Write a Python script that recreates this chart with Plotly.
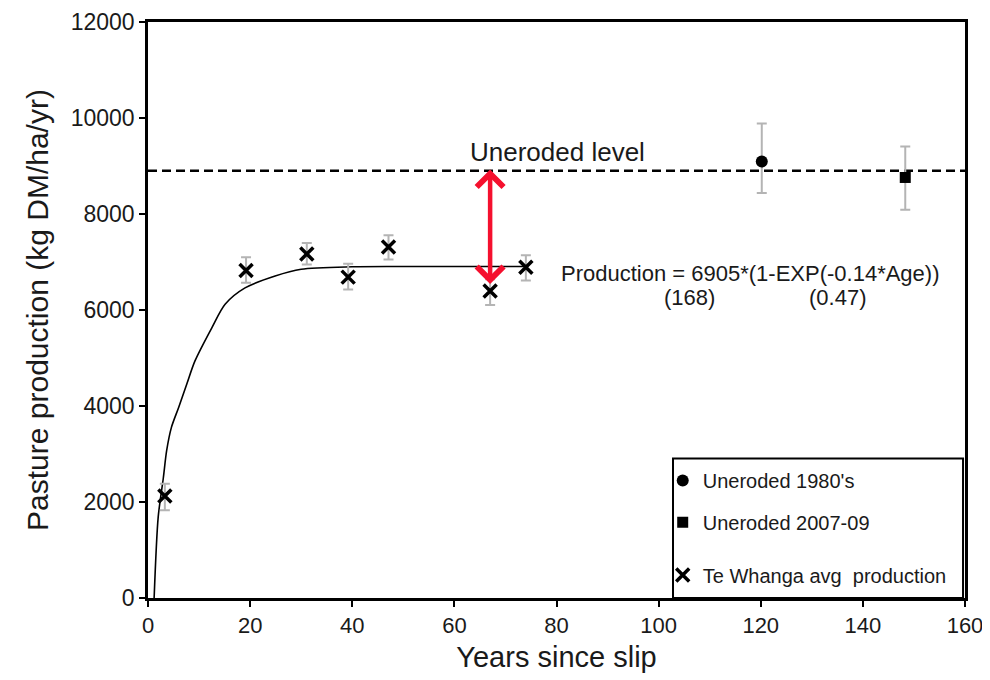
import plotly.graph_objects as go

# ---- data ----
te_x = [3.3, 19.2, 31.1, 39.2, 47.1, 67.0, 74.0]
te_y = [2124, 6824, 7168, 6685, 7314, 6394, 6892]
te_top = [2381, 7100, 7397, 6961, 7557, 6643, 7141]
te_bot = [1827, 6566, 6948, 6429, 7052, 6103, 6616]

u80_x = [120.2]
u80_y = [9093]
u80_top = [9888]
u80_bot = [8435]

u07_x = [148.3]
u07_y = [8761]
u07_top = [9404]
u07_bot = [8090]

curve_x = [1.2, 2.0, 3.0, 3.65, 4.6, 6.0, 7.6, 9.2, 12.5, 15.1, 19.0, 24.9, 30.0, 40.0, 50.0, 60.0, 74.0]
curve_y = [0, 1690, 2500, 3070, 3560, 3970, 4460, 4940, 5630, 6120, 6460, 6710, 6850, 6900, 6905, 6905, 6905]

uneroded_level = 8900
level_x = [0, 160]

arrow_x = 67
arrow_top = 8960
arrow_bottom = 6540

x_ticks = [0, 20, 40, 60, 80, 100, 120, 140, 160]
y_ticks = [0, 2000, 4000, 6000, 8000, 10000, 12000]
y_tick_text = ["0", "2000", "4000", "6000", "8000", "10000", "12000"]

FONT = "Liberation Sans, Arial, sans-serif"
TXT = "#1a1a1a"
ERR = "#b4b4b4"


def err_up(v, t):
    return [a - b for a, b in zip(t, v)]


def err_dn(v, b):
    return [a - c for a, c in zip(v, b)]


fig = go.Figure()

# fitted curve
fig.add_trace(go.Scatter(x=curve_x, y=curve_y, mode="lines",
                         line=dict(color="black", width=1.6, shape="spline", smoothing=0.8),
                         showlegend=False, hoverinfo="skip"))

# uneroded level
fig.add_trace(go.Scatter(x=level_x, y=[uneroded_level] * len(level_x), mode="lines",
                         line=dict(color="black", width=2.5, dash="9px,5px"),
                         showlegend=False, hoverinfo="skip"))

fig.add_trace(go.Scatter(
    x=u80_x, y=u80_y, mode="markers", name="Uneroded 1980's",
    marker=dict(symbol="circle", size=12, color="black"),
    error_y=dict(type="data", symmetric=False, array=err_up(u80_y, u80_top),
                 arrayminus=err_dn(u80_y, u80_bot), color=ERR, thickness=2, width=5),
    legend="legend"))

fig.add_trace(go.Scatter(
    x=u07_x, y=u07_y, mode="markers", name="Uneroded 2007-09",
    marker=dict(symbol="square", size=11, color="black"),
    error_y=dict(type="data", symmetric=False, array=err_up(u07_y, u07_top),
                 arrayminus=err_dn(u07_y, u07_bot), color=ERR, thickness=2, width=5),
    legend="legend2"))

fig.add_trace(go.Scatter(
    x=te_x, y=te_y, mode="markers", name="Te Whanga avg  production",
    marker=dict(symbol="x-thin", size=13, color="black",
                line=dict(color="black", width=3.5)),
    error_y=dict(type="data", symmetric=False, array=err_up(te_y, te_top),
                 arrayminus=err_dn(te_y, te_bot), color=ERR, thickness=2, width=5),
    legend="legend3"))

# red double arrow
fig.add_annotation(x=arrow_x, y=arrow_bottom, ax=arrow_x, ay=arrow_top,
                   xref="x", yref="y", axref="x", ayref="y", text="",
                   showarrow=True, arrowside="end+start", arrowhead=4,
                   arrowsize=1.15, arrowwidth=4.5, arrowcolor="#f5102e")

fig.add_annotation(x=80.1, y=9300, xref="x", yref="y", text="Uneroded level",
                   showarrow=False, font=dict(family=FONT, size=26, color=TXT))
fig.add_annotation(x=80.5, y=6768, xref="x", yref="y", xanchor="left",
                   text="Production = 6905*(1-EXP(-0.14*Age))",
                   showarrow=False, font=dict(family=FONT, size=22, color=TXT))
fig.add_annotation(x=106, y=6270, xref="x", yref="y", text="(168)",
                   showarrow=False, font=dict(family=FONT, size=22, color=TXT))
fig.add_annotation(x=135, y=6270, xref="x", yref="y", text="(0.47)",
                   showarrow=False, font=dict(family=FONT, size=22, color=TXT))

# legend box
fig.add_shape(type="rect", xref="paper", yref="paper", x0=0.6426, x1=0.9976,
              y0=0, y1=0.2422, line=dict(color="black", width=2),
              fillcolor="rgba(0,0,0,0)", layer="above")

leg_common = dict(bgcolor="rgba(0,0,0,0)", borderwidth=0, xanchor="left",
                  yanchor="middle", font=dict(family=FONT, size=20, color=TXT))

fig.update_layout(
    width=982, height=672,
    margin=dict(l=140, r=25, t=14, b=82, autoexpand=False),
    paper_bgcolor="white", plot_bgcolor="white",
    font=dict(family=FONT, color=TXT),
    legend=dict(x=0.63, y=0.204, **leg_common),
    legend2=dict(x=0.63, y=0.1315, **leg_common),
    legend3=dict(x=0.63, y=0.0398, **leg_common),
    xaxis=dict(range=[0, 160], tickvals=x_ticks, showgrid=False, zeroline=False,
               showline=True, linecolor="black", linewidth=2.5, mirror=True,
               ticks="outside", ticklen=6, tickwidth=2, tickcolor="black",
               automargin=False, ticklabeloverflow="allow",
               tickfont=dict(family=FONT, size=22, color=TXT),
               title=dict(text="Years since slip", font=dict(family=FONT, size=29, color=TXT),
                          standoff=10)),
    yaxis=dict(range=[0, 12000], tickvals=y_ticks, ticktext=y_tick_text,
               showgrid=False, zeroline=False,
               showline=True, linecolor="black", linewidth=2.5, mirror=True,
               ticks="outside", ticklen=6, tickwidth=2, tickcolor="black",
               automargin=False, ticklabeloverflow="allow",
               tickfont=dict(family=FONT, size=23, color=TXT),
               title=dict(text="Pasture production (kg DM/ha/yr)",
                          font=dict(family=FONT, size=30, color=TXT), standoff=14)),
)

fig.write_html("out.html")
